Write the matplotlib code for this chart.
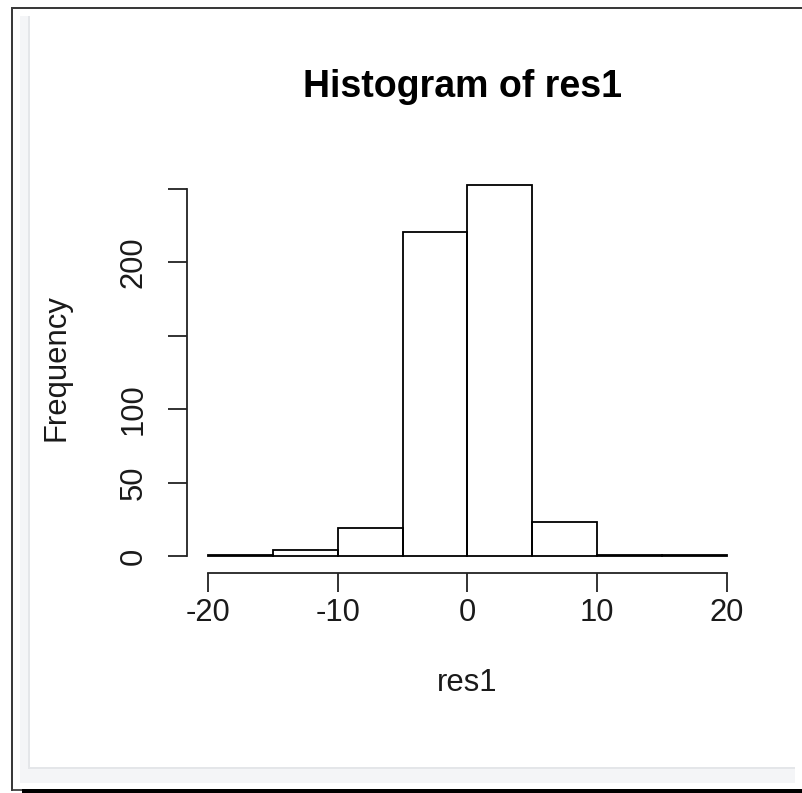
import matplotlib
matplotlib.use("Agg")
import matplotlib.pyplot as plt
from matplotlib.patches import Rectangle
import numpy as np

# ---- data ----
bin_edges = [-20, -15, -10, -5, 0, 5, 10, 15, 20]
counts = [1, 4, 19, 221, 253, 23, 1, 1]
x_ticks = [-20, -10, 0, 10, 20]
x_ticklabels = ["-20", "-10", "0", "10", "20"]
y_ticks = [0, 50, 100, 150, 200, 250]
y_ticklabels = ["0", "50", "100", "", "200", ""]
title = "Histogram of res1"
xlabel = "res1"
ylabel = "Frequency"

W, H = 802, 793
plt.rcParams['font.family'] = ['Liberation Sans', 'DejaVu Sans']
fig = plt.figure(figsize=(W / 100, H / 100), dpi=100)
fig.patch.set_facecolor("white")


def fx(px):
    return px / W


def fy(py):
    return 1 - py / H


def rect(x0, y0, x1, y1, color):
    fig.add_artist(Rectangle((fx(x0), fy(y1)), fx(x1) - fx(x0), fy(y0) - fy(y1),
                             transform=fig.transFigure, facecolor=color,
                             edgecolor="none", zorder=0))


# frame decorations (screenshot panel)
rect(20, 16, 795, 783, "#f4f5f7")
rect(28, 16, 795, 769, "#e4e6e9")
rect(30, 16, 795, 767, "white")
rect(11, 7, 802, 9, "#3a3a3a")
rect(11, 7, 13, 791, "#3a3a3a")
rect(13, 789, 22, 791, "#555555")
rect(22, 789, 802, 793, "black")

# axes region in pixels
L, R_, T, B = 187.2, 747.7, 169.7, 571.0
ax = fig.add_axes([fx(L), fy(B), fx(R_) - fx(L), fy(T) - fy(B)])
ax.set_facecolor("none")

edges = np.array(bin_edges, dtype=float)
ax.bar(edges[:-1], counts, width=np.diff(edges), align="edge",
       fill=False, edgecolor="black", linewidth=1.3)

xr = edges[-1] - edges[0]
ax.set_xlim(edges[0] - 0.04 * xr, edges[-1] + 0.04 * xr)
ymax = max(counts)
ax.set_ylim(-0.04 * ymax, ymax * 1.04)

for s in ["top", "right"]:
    ax.spines[s].set_visible(False)
ax.spines["left"].set_bounds(y_ticks[0], y_ticks[-1])
ax.spines["bottom"].set_bounds(x_ticks[0], x_ticks[-1])
ax.spines["bottom"].set_position(("outward", 1.5))
for s in ["left", "bottom"]:
    ax.spines[s].set_linewidth(1.3)
    ax.spines[s].set_color("#222222")

ax.set_xticks(x_ticks)
ax.set_xticklabels(x_ticklabels)
ax.set_yticks(y_ticks)
ax.set_yticklabels(y_ticklabels, rotation=90, va="center")
ax.tick_params(axis="both", length=13.7, width=1.3, color="#222222",
               labelsize=22.3, labelcolor="#1a1a1a")
ax.tick_params(axis="x", pad=4)
ax.tick_params(axis="y", pad=14)

fig.text(fx(463), fy(97), title, ha="center", va="baseline",
         fontsize=27, fontweight="bold", color="black")
fig.text(fx(467.5), fy(683), xlabel, ha="center", va="center",
         fontsize=22.3, color="#1a1a1a")
fig.text(fx(57), fy(368), ylabel, ha="center", va="center", rotation=90,
         fontsize=22.3, color="#1a1a1a")

fig.savefig("out.png", dpi=100)
